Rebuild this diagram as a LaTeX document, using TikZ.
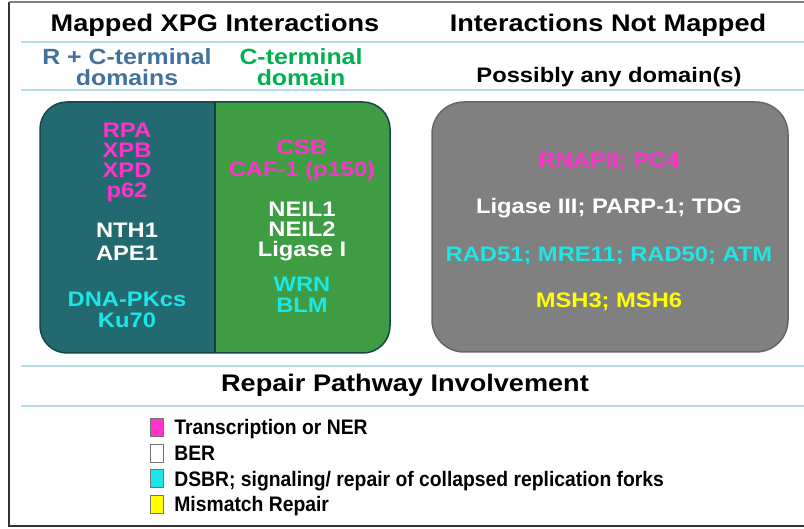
\documentclass[tikz,border=0pt]{standalone}
\usepackage{fontspec}
\setmainfont{Liberation Sans}
\newfontfamily\widesans[FakeStretch=1.13]{Liberation Sans}
\newfontfamily\narrowsans[FakeStretch=0.92]{Liberation Sans}
\usetikzlibrary{positioning}
\definecolor{nerpink}{RGB}{255,51,204}
\definecolor{dsbcyan}{RGB}{28,230,230}
\definecolor{mmryellow}{RGB}{255,255,0}
\definecolor{rcblue}{RGB}{65,113,156}
\definecolor{cgreen}{RGB}{0,176,80}
\definecolor{rcpanel}{RGB}{35,106,112}
\definecolor{cpanel}{RGB}{62,156,66}
\definecolor{nmpanel}{RGB}{128,128,128}
\definecolor{ruleblue}{RGB}{183,221,232}

\begin{document}
\begin{tikzpicture}[x=1pt,y=-1pt,node distance=20pt,label distance=11pt,
  every node/.style={inner sep=0pt},
  hdr/.style={font=\widesans\bfseries\fontsize{24}{24}\selectfont,anchor=base},
  sub/.style={font=\widesans\bfseries\fontsize{22}{22}\selectfont,anchor=base},
  item/.style={font=\widesans\bfseries\fontsize{21}{21}\selectfont,text height=15pt,text depth=4pt},
  keybox/.style={draw=black!55,minimum width=13pt,minimum height=18pt},
  keytxt/.style={font=\narrowsans\bfseries\fontsize{21}{21}\selectfont,text height=18pt,text depth=3pt},
  rule/.style={ruleblue,line width=1.2pt}]
  \useasboundingbox (0,0) rectangle (804,529);
  \draw[black!80,line width=1.5pt](804,526)--(9,526)--(9,2);
  \draw[black!50,line width=1.5pt](9,2)--(804,2);
  \foreach \y in {42,90,366,406} \draw[rule](21,\y)--(804,\y);
  % headings
  \node[hdr] (mapped) at (215,32) {Mapped XPG Interactions};
  \node[hdr] (notmapped) at (608,32) {Interactions Not Mapped};
  \node[sub,text=rcblue] (rc1) at (127,65) {R + C-terminal};
  \node[sub,text=rcblue] (rc2) at (127,86) {domains};
  \node[sub,text=cgreen] (c1) at (301,65) {C-terminal};
  \node[sub,text=cgreen] (c2) at (301,86) {domain};
  \node[sub,font=\widesans\bfseries\fontsize{21}{21}\selectfont] (anydom) at (609,83) {Possibly any domain(s)};
  % panels
  \begin{scope}
    \clip[rounded corners=27pt](40,102) rectangle (390,353);
    \fill[rcpanel](40,102) rectangle (215,353);
    \fill[cpanel](215,102) rectangle (390,353);
  \end{scope}
  \draw[black!35!rcpanel,line width=1.5pt,rounded corners=27pt](40,102) rectangle (390,353);
  \draw[black!40!rcpanel,line width=1.5pt](215,102)--(215,353);
  \fill[nmpanel,draw=black!60,line width=1.5pt,rounded corners=32pt](432,102) rectangle (788,352);
  % R + C-terminal
  \node[item,text=nerpink] (rpa) at (127,132.5) {RPA};
  \node[item,text=nerpink,below of=rpa] (xpb) {XPB};
  \node[item,text=nerpink,below of=xpb] (xpd) {XPD};
  \node[item,text=nerpink,below of=xpd] (p62) {p62};
  \node[item,text=white] (nth1) at (127,232.5) {NTH1};
  \node[item,text=white,below of=nth1,node distance=23pt] (ape1) {APE1};
  \node[item,text=dsbcyan] (dnapk) at (127,301.5) {DNA-PKcs};
  \node[item,text=dsbcyan,below of=dnapk,node distance=21pt] (ku70) {Ku70};
  % C-terminal
  \node[item,text=nerpink] (csb) at (302,149.5) {CSB};
  \node[item,text=nerpink,below of=csb,node distance=22pt] (caf1) {CAF-1 (p150)};
  \node[item,text=white] (neil1) at (302,211.5) {NEIL1};
  \node[item,text=white,below of=neil1] (neil2) {NEIL2};
  \node[item,text=white,below of=neil2] (lig1) {Ligase I};
  \node[item,text=dsbcyan] (wrn) at (302,286.5) {WRN};
  \node[item,text=dsbcyan,below of=wrn,node distance=21pt] (blm) {BLM};
  % not mapped
  \node[item,text=nerpink] (rnap) at (609,162.5) {RNAPII; PC4};
  \node[item,text=white,below of=rnap,node distance=46pt] (lig3) {Ligase III; PARP-1; TDG};
  \node[item,text=dsbcyan,below of=lig3,node distance=48pt] (rad) {RAD51; MRE11; RAD50; ATM};
  \node[item,text=mmryellow,below of=rad,node distance=46pt] (msh) {MSH3; MSH6};
  % legend
  \node[hdr] (pathway) at (405,392) {Repair Pathway Involvement};
  \node[keybox,fill=nerpink] (k1) at (156.5,427.5) [label={[keytxt]right:Transcription or NER}] {};
  \node[keybox,fill=white,below of=k1,node distance=25.5pt] (k2) [label={[keytxt]right:BER}] {};
  \node[keybox,fill=dsbcyan,below of=k2,node distance=25.5pt] (k3) [label={[keytxt]right:DSBR; signaling/ repair of collapsed replication forks}] {};
  \node[keybox,fill=mmryellow,below of=k3,node distance=25.5pt] (k4) [label={[keytxt]right:Mismatch Repair}] {};
\end{tikzpicture}
\end{document}
